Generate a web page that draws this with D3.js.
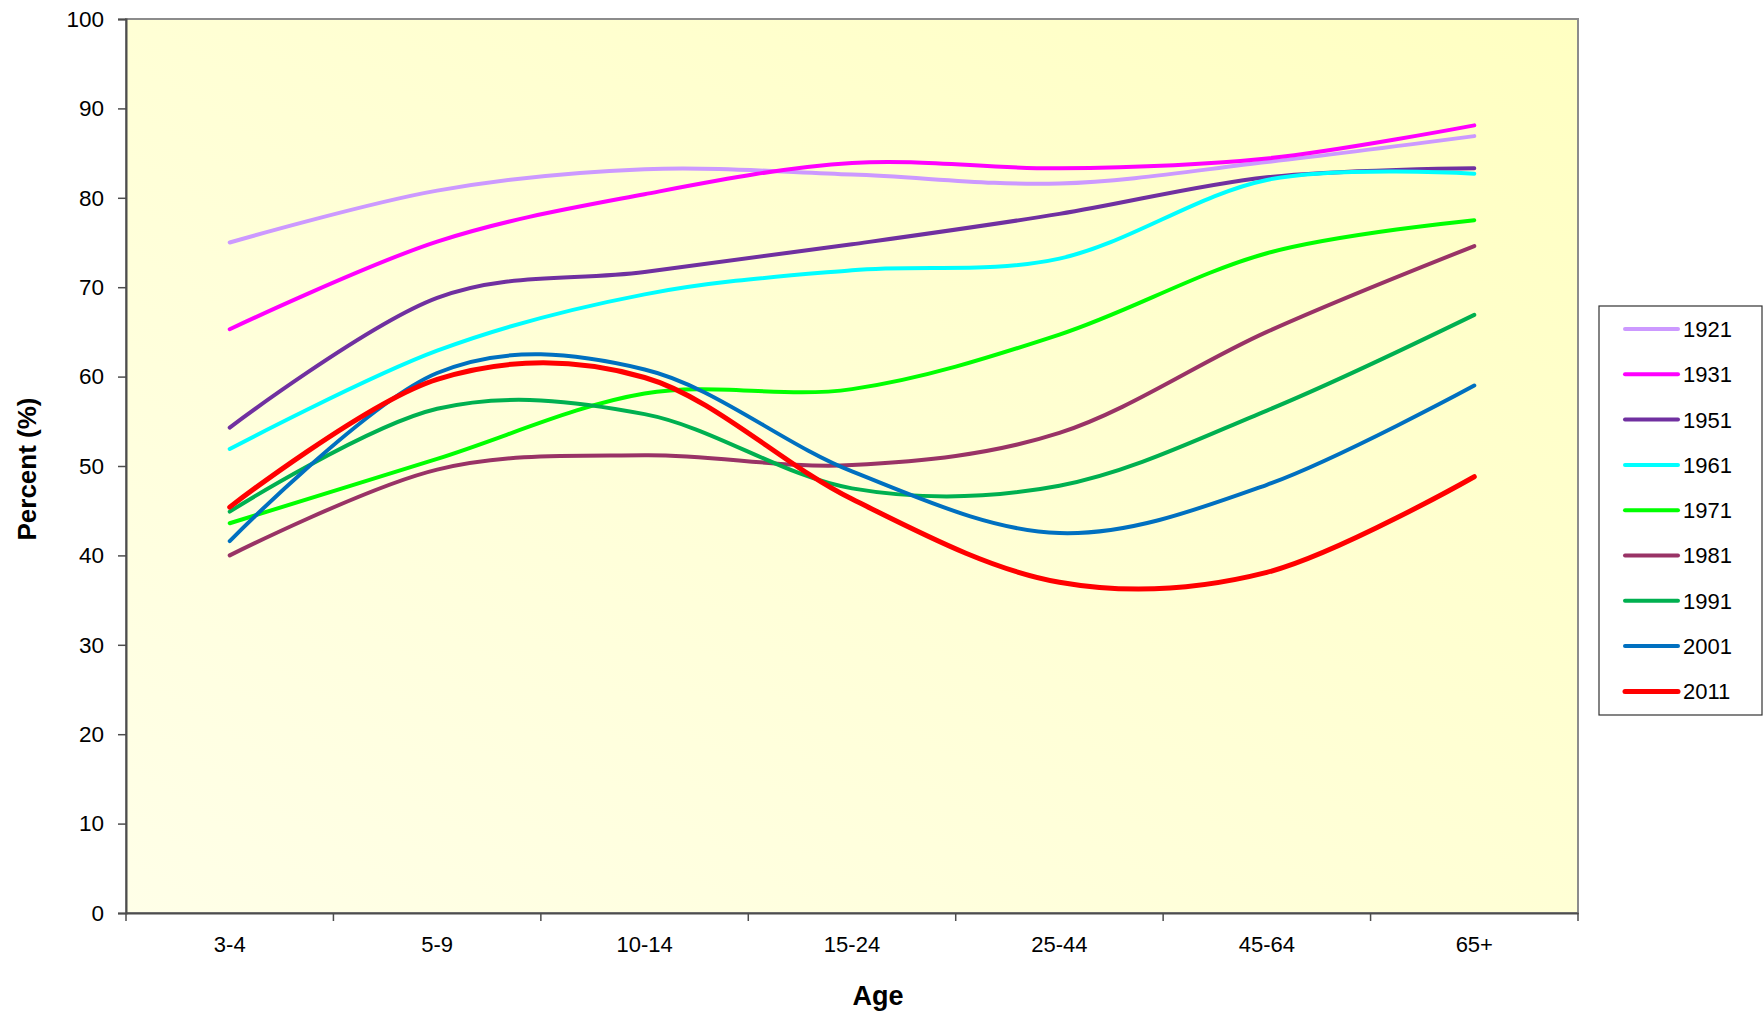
<!DOCTYPE html>
<html>
<head>
<meta charset="utf-8">
<script src="https://cdn.jsdelivr.net/npm/d3@7"></script>
<style>
  html, body { margin: 0; padding: 0; background: #ffffff; }
  svg { display: block; font-family: "Liberation Sans", Arial, sans-serif; }
</style>
</head>
<body>
<svg id="chart" width="1763" height="1014"></svg>
<script>
// Age groups along the x axis
const ageGroups = ["3-4", "5-9", "10-14", "15-24", "25-44", "45-64", "65+"];

// Percent values for each census year, one entry per age group
const y1921 = [75.0, 80.8, 83.2, 82.6, 81.6, 84.0, 86.9];
const y1931 = [65.3, 75.1, 80.4, 83.9, 83.3, 84.4, 88.1];
const y1951 = [54.3, 68.8, 71.7, 74.8, 78.2, 82.3, 83.3];
const y1961 = [51.9, 62.9, 69.2, 71.9, 73.2, 82.0, 82.7];
const y1971 = [43.6, 50.8, 58.1, 58.6, 64.7, 73.8, 77.5];
const y1981 = [40.0, 49.6, 51.2, 50.1, 53.7, 65.0, 74.6];
const y1991 = [44.9, 56.4, 55.8, 47.5, 47.8, 56.2, 66.9];
const y2001 = [41.6, 60.4, 60.8, 49.4, 42.5, 47.9, 59.0];
const y2011 = [45.4, 59.7, 59.9, 46.3, 37.0, 38.1, 48.8];

const yearLabels = ["1921", "1931", "1951", "1961", "1971", "1981", "1991", "2001", "2011"];
const yearValues = [y1921, y1931, y1951, y1961, y1971, y1981, y1991, y2001, y2011];
const yearColors = ["#CC99FF", "#FF00FF", "#7030A0", "#00FFFF", "#00FF00", "#993366", "#00B050", "#0070C0", "#FF0000"];

const yTicks = [0, 10, 20, 30, 40, 50, 60, 70, 80, 90, 100];

const svg = d3.select("#chart");
const plot = { left: 126, top: 19, right: 1578, bottom: 913 };

const x = d3.scaleBand().domain(ageGroups).range([plot.left, plot.right]).padding(0);
const y = d3.scaleLinear().domain([0, 100]).range([plot.bottom, plot.top]);

// Soft yellow gradient fill behind the plot
const defs = svg.append("defs");
const grad = defs.append("linearGradient")
  .attr("id", "plotFill")
  .attr("x1", "0%").attr("y1", "100%")
  .attr("x2", "100%").attr("y2", "0%");
grad.append("stop").attr("offset", "0%").attr("stop-color", "#FFFFE8");
grad.append("stop").attr("offset", "100%").attr("stop-color", "#FFFFC2");

svg.append("rect")
  .attr("x", plot.left).attr("y", plot.top)
  .attr("width", plot.right - plot.left).attr("height", plot.bottom - plot.top)
  .attr("fill", "url(#plotFill)")
  .attr("stroke", "#8C8C8C").attr("stroke-width", 2);

// Series lines, smoothed
const line = d3.line()
  .x((d, i) => x(ageGroups[i]) + x.bandwidth() / 2)
  .y(d => y(d))
  .curve(d3.curveCardinal.tension(0));

svg.append("g").selectAll("path")
  .data(yearValues)
  .join("path")
  .attr("d", d => line(d))
  .attr("fill", "none")
  .attr("stroke", (d, i) => yearColors[i])
  .attr("stroke-width", (d, i) => yearLabels[i] === "2011" ? 5 : 4)
  .attr("stroke-linecap", "round")
  .attr("stroke-linejoin", "round");

// Y axis
const yAxis = svg.append("g")
  .attr("transform", `translate(${plot.left},0)`)
  .call(d3.axisLeft(y).tickValues(yTicks).tickSize(8).tickPadding(14));
yAxis.select(".domain").attr("stroke", "#4D4D4D").attr("stroke-width", 2);
yAxis.selectAll(".tick line").attr("stroke", "#4D4D4D").attr("stroke-width", 1.5);
yAxis.selectAll(".tick text")
  .attr("font-size", 22.5).attr("fill", "#000")
  .attr("font-family", "Liberation Sans, Arial, sans-serif");

// X axis with ticks at category boundaries
const xAxis = svg.append("g")
  .attr("transform", `translate(0,${plot.bottom})`)
  .call(d3.axisBottom(x).tickSize(0).tickPadding(0));
xAxis.select(".domain").attr("stroke", "#4D4D4D").attr("stroke-width", 2);
xAxis.selectAll(".tick text")
  .attr("y", 39).attr("dy", 0)
  .attr("font-size", 22).attr("fill", "#000")
  .attr("font-family", "Liberation Sans, Arial, sans-serif");

const boundaries = ageGroups.map(g => x(g)).concat([x(ageGroups[ageGroups.length - 1]) + x.bandwidth()]);
svg.append("g").selectAll("line")
  .data(boundaries)
  .join("line")
  .attr("x1", d => d).attr("x2", d => d)
  .attr("y1", plot.bottom).attr("y2", plot.bottom + 8)
  .attr("stroke", "#4D4D4D").attr("stroke-width", 1.5);

// Axis titles
svg.append("text")
  .attr("x", 878).attr("y", 1005)
  .attr("text-anchor", "middle")
  .attr("font-size", 27).attr("font-weight", "bold")
  .text("Age");

svg.append("text")
  .attr("transform", `translate(36,469) rotate(-90)`)
  .attr("text-anchor", "middle")
  .attr("font-size", 26).attr("font-weight", "bold")
  .text("Percent (%)");

// Legend
const legend = { x: 1599, y: 306, w: 163, h: 409, rowY: 329, rowStep: 45.3 };
svg.append("rect")
  .attr("x", legend.x).attr("y", legend.y)
  .attr("width", legend.w).attr("height", legend.h)
  .attr("fill", "#ffffff").attr("stroke", "#333333").attr("stroke-width", 1.2);

const rows = svg.append("g").selectAll("g")
  .data(yearLabels)
  .join("g")
  .attr("transform", (d, i) => `translate(0,${legend.rowY + i * legend.rowStep})`);
rows.append("line")
  .attr("x1", 1625).attr("x2", 1678)
  .attr("stroke", (d, i) => yearColors[i])
  .attr("stroke-width", (d, i) => d === "2011" ? 5 : 4)
  .attr("stroke-linecap", "round");
rows.append("text")
  .attr("x", 1683).attr("y", 0).attr("dy", "0.36em")
  .attr("font-size", 22)
  .text(d => d);
</script>
</body>
</html>
